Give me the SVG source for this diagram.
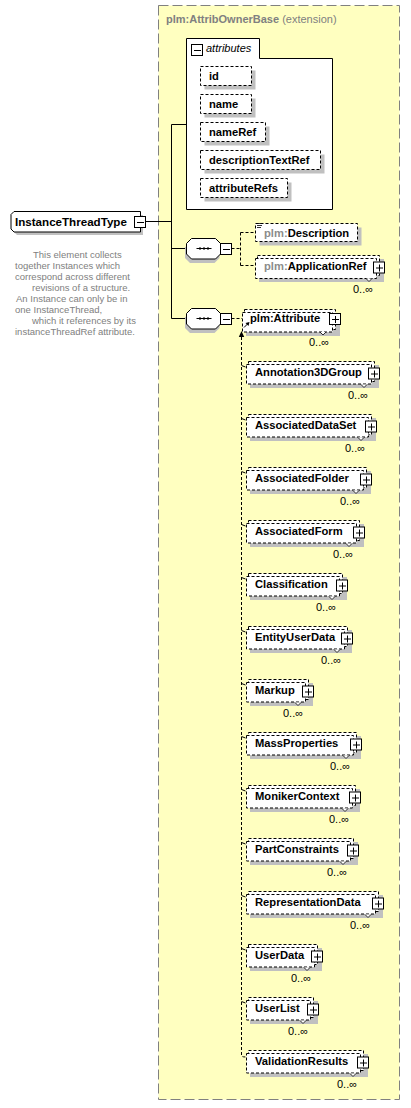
<svg xmlns="http://www.w3.org/2000/svg" xmlns:xlink="http://www.w3.org/1999/xlink" width="411" height="1108" viewBox="0 0 411 1108">
<style>
text{font-family:"Liberation Sans",Arial,sans-serif}
.lbl{font-size:11.2px;font-weight:bold;fill:#000}
.pre{font-weight:bold;fill:#8c8c8c}
.mult{font-size:11px;fill:#000}
.doc{font-size:9.5px;fill:#808080}
.dbox{fill:#fff;stroke:#000;stroke-dasharray:3,2}
.sbox{fill:#fff;stroke:#000}
.shadow{fill:#c0c0c0}
.conn{fill:none;stroke:#000}
.dconn{fill:none;stroke:#000;stroke-dasharray:3,2}
</style>
<defs>
<g id="plus"><rect x="0.5" y="0.5" width="11" height="11" fill="#fff" stroke="#000"/><path d="M3 6.5h7M6.5 3v7" stroke="#000"/></g>
<g id="minus"><rect x="0.5" y="0.5" width="11" height="11" fill="#fff" stroke="#000"/><path d="M3 6.5h7" stroke="#000"/></g>
<g id="seq"><path d="M4 4.5H28.5L33.5 9.5V20L28.5 25H4L-1 20V9.5Z" class="shadow"/><path d="M5.5 0.5H29.5L34.5 5.5V16L29.5 21H5.5L0.5 16V5.5Z" class="sbox"/><path d="M10.5 10.5h15" stroke="#000"/><rect x="13" y="9.5" width="2" height="2"/><rect x="17" y="9.5" width="2" height="2"/><rect x="21" y="9.5" width="2" height="2"/></g>
</defs>
<rect x="158.5" y="5.5" width="241" height="1094" fill="#FFFFC0" stroke="#808080" stroke-dasharray="10,4"/>
<text x="166" y="23" style="font-size:11px;fill:#808080"><tspan font-weight="bold">plm:AttribOwnerBase</tspan> (extension)</text>

<g id="connectors">
<path class="conn" d="M145.5 221.5H171.5M171.5 124.5V318.5M171.5 124.5H186.5M171.5 248.5H186.5M171.5 318.5H186.5"/>
<path class="dconn" d="M231.5 248.5H240.5M240.5 232.5V265.5M240.5 232.5H255.5M240.5 265.5H255.5"/>
<path class="dconn" d="M231.5 318.5H242"/>
<path class="dconn" d="M241.5 337V1055.5Q241.5 1057 246 1057"/>
<polygon points="241.5,331 238.8,337 244.2,337" fill="#000"/>
<path class="conn" d="M241.5 365.5l4 1.5M241.5 418.5l4 1.5M241.5 471.5l4 1.5M241.5 524.5l4 1.5M241.5 577.5l4 1.5M241.5 630.5l4 1.5M241.5 683.5l4 1.5M241.5 736.5l4 1.5M241.5 789.5l4 1.5M241.5 842.5l4 1.5M241.5 895.5l4 1.5M241.5 948.5l4 1.5M241.5 1001.5l4 1.5"/>
</g>

<g id="attributes">
<path d="M186.5 38.5H259.5V58.5H332.5V209.5H186.5Z" class="sbox"/>
<use xlink:href="#minus" x="191" y="44"/>
<text x="206" y="52" style="font-size:11px;font-style:italic;fill:#000">attributes</text>
</g>
<g id="attr-id"><rect class="shadow" x="204.5" y="70.5" width="51" height="19"/><rect class="dbox" x="200.5" y="66.5" width="51" height="19"/><text class="lbl" x="209" y="80">id</text></g>
<g id="attr-name"><rect class="shadow" x="204.5" y="98.5" width="51" height="19"/><rect class="dbox" x="200.5" y="94.5" width="51" height="19"/><text class="lbl" x="209" y="108">name</text></g>
<g id="attr-nameRef"><rect class="shadow" x="204.5" y="126.5" width="65" height="19"/><rect class="dbox" x="200.5" y="122.5" width="65" height="19"/><text class="lbl" x="209" y="136">nameRef</text></g>
<g id="attr-descriptionTextRef"><rect class="shadow" x="204.5" y="154.5" width="120" height="19"/><rect class="dbox" x="200.5" y="150.5" width="120" height="19"/><text class="lbl" x="209" y="164">descriptionTextRef</text></g>
<g id="attr-attributeRefs"><rect class="shadow" x="204.5" y="182.5" width="87" height="19"/><rect class="dbox" x="200.5" y="178.5" width="87" height="19"/><text class="lbl" x="209" y="192">attributeRefs</text></g>

<g id="InstanceThreadType">
<path class="shadow" d="M17 215H143V235H17L14 232V218Z"/>
<path class="sbox" d="M14 211.5H140.5V232H14L11 229V214.5Z"/>
<text class="lbl" x="15" y="225.5" style="font-size:11.6px">InstanceThreadType</text>
<use xlink:href="#minus" x="134" y="216"/>
<text class="doc"><tspan x="33" y="258">This element collects</tspan><tspan x="15" y="269">together Instances which</tspan><tspan x="15" y="280">correspond across different</tspan><tspan x="32" y="291">revisions of a structure.</tspan><tspan x="16" y="302">An Instance can only be in</tspan><tspan x="15" y="313">one InstanceThread,</tspan><tspan x="32" y="324">which it references by its</tspan><tspan x="15" y="335">instanceThreadRef attribute.</tspan></text>
</g>

<g id="sequence1"><use xlink:href="#seq" x="186" y="238"/><use xlink:href="#minus" x="220" y="243"/></g>
<g id="sequence2"><use xlink:href="#seq" x="186" y="308"/><use xlink:href="#minus" x="220" y="313"/></g>

<g id="Description">
<rect class="shadow" x="259.5" y="227.5" width="102" height="18"/>
<rect class="dbox" x="255.5" y="223.5" width="102" height="18"/>
<path d="M257 223.5h5M257 225.5h5M257 227.5h4" stroke="#000" stroke-width="0.8"/>
<text class="lbl" x="264" y="236.5"><tspan class="pre">plm:</tspan>Description</text>
</g>

<g id="ApplicationRef">
<rect class="shadow" x="259" y="259" width="125" height="23"/>
<rect class="dbox" x="257.5" y="255.5" width="122" height="20"/>
<rect class="dbox" x="255.5" y="258.5" width="121" height="20"/>
<path d="M366 278.5l3 3l3-3" fill="#fff" stroke="#000" stroke-width="0.8"/>
<text class="lbl" x="264" y="270"><tspan class="pre">plm:</tspan>ApplicationRef</text>
<use xlink:href="#plus" x="373" y="261.5"/>
<text class="mult" x="353" y="293">0..∞</text>
</g>

<g id="Attribute">
<rect class="shadow" x="246" y="313" width="94" height="23"/>
<rect class="dbox" x="244.5" y="309.5" width="91" height="20"/>
<rect class="dbox" x="242.5" y="312.5" width="90" height="19.5"/>
<path d="M320 332l3 3l3-3" fill="#fff" stroke="#000" stroke-width="0.8"/>
<path d="M244 327.5l4-4" stroke="#000"/><polygon points="249.5,322 245.5,323 248.5,326" fill="#000"/>
<text class="lbl" x="250" y="322">plm:Attribute</text>
<use xlink:href="#plus" x="329" y="313"/>
<text class="mult" x="309" y="346">0..∞</text>
</g>

<g id="Annotation3DGroup"><rect class="shadow" x="250" y="365" width="129" height="23"/><rect class="dbox" x="248.5" y="361.5" width="126" height="20"/><rect class="dbox" x="246.5" y="364.5" width="125" height="19.5"/><path d="M361 384.5l3 3l3-3" fill="#fff" stroke="#000" stroke-width="0.8"/><text class="lbl" x="255" y="376">Annotation3DGroup</text><use xlink:href="#plus" x="368" y="367.5"/><text class="mult" x="348" y="399">0..∞</text></g>
<g id="AssociatedDataSet"><rect class="shadow" x="250" y="418" width="126" height="23"/><rect class="dbox" x="248.5" y="414.5" width="123" height="20"/><rect class="dbox" x="246.5" y="417.5" width="122" height="19.5"/><path d="M358 437.5l3 3l3-3" fill="#fff" stroke="#000" stroke-width="0.8"/><text class="lbl" x="255" y="429">AssociatedDataSet</text><use xlink:href="#plus" x="365" y="420.5"/><text class="mult" x="345" y="452">0..∞</text></g>
<g id="AssociatedFolder"><rect class="shadow" x="250" y="471" width="121" height="23"/><rect class="dbox" x="248.5" y="467.5" width="118" height="20"/><rect class="dbox" x="246.5" y="470.5" width="117" height="19.5"/><path d="M353 490.5l3 3l3-3" fill="#fff" stroke="#000" stroke-width="0.8"/><text class="lbl" x="255" y="482">AssociatedFolder</text><use xlink:href="#plus" x="360" y="473.5"/><text class="mult" x="340" y="505">0..∞</text></g>
<g id="AssociatedForm"><rect class="shadow" x="250" y="524" width="114" height="23"/><rect class="dbox" x="248.5" y="520.5" width="111" height="20"/><rect class="dbox" x="246.5" y="523.5" width="110" height="19.5"/><path d="M346 543.5l3 3l3-3" fill="#fff" stroke="#000" stroke-width="0.8"/><text class="lbl" x="255" y="535">AssociatedForm</text><use xlink:href="#plus" x="353" y="526.5"/><text class="mult" x="333" y="558">0..∞</text></g>
<g id="Classification"><rect class="shadow" x="250" y="577" width="97" height="23"/><rect class="dbox" x="248.5" y="573.5" width="94" height="20"/><rect class="dbox" x="246.5" y="576.5" width="93" height="19.5"/><path d="M329 596.5l3 3l3-3" fill="#fff" stroke="#000" stroke-width="0.8"/><text class="lbl" x="255" y="588">Classification</text><use xlink:href="#plus" x="336" y="579.5"/><text class="mult" x="316" y="611">0..∞</text></g>
<g id="EntityUserData"><rect class="shadow" x="250" y="630" width="102" height="23"/><rect class="dbox" x="248.5" y="626.5" width="99" height="20"/><rect class="dbox" x="246.5" y="629.5" width="98" height="19.5"/><path d="M334 649.5l3 3l3-3" fill="#fff" stroke="#000" stroke-width="0.8"/><text class="lbl" x="255" y="641">EntityUserData</text><use xlink:href="#plus" x="341" y="632.5"/><text class="mult" x="321" y="664">0..∞</text></g>
<g id="Markup"><rect class="shadow" x="250" y="683" width="63" height="23"/><rect class="dbox" x="248.5" y="679.5" width="60" height="20"/><rect class="dbox" x="246.5" y="682.5" width="59" height="19.5"/><path d="M295 702.5l3 3l3-3" fill="#fff" stroke="#000" stroke-width="0.8"/><text class="lbl" x="255" y="694">Markup</text><use xlink:href="#plus" x="302" y="685.5"/><text class="mult" x="283" y="717">0..∞</text></g>
<g id="MassProperties"><rect class="shadow" x="250" y="736" width="111" height="23"/><rect class="dbox" x="248.5" y="732.5" width="108" height="20"/><rect class="dbox" x="246.5" y="735.5" width="107" height="19.5"/><path d="M343 755.5l3 3l3-3" fill="#fff" stroke="#000" stroke-width="0.8"/><text class="lbl" x="255" y="747">MassProperties</text><use xlink:href="#plus" x="350" y="738.5"/><text class="mult" x="330" y="770">0..∞</text></g>
<g id="MonikerContext"><rect class="shadow" x="250" y="789" width="110" height="23"/><rect class="dbox" x="248.5" y="785.5" width="107" height="20"/><rect class="dbox" x="246.5" y="788.5" width="106" height="19.5"/><path d="M342 808.5l3 3l3-3" fill="#fff" stroke="#000" stroke-width="0.8"/><text class="lbl" x="255" y="800">MonikerContext</text><use xlink:href="#plus" x="349" y="791.5"/><text class="mult" x="329" y="823">0..∞</text></g>
<g id="PartConstraints"><rect class="shadow" x="250" y="842" width="108" height="23"/><rect class="dbox" x="248.5" y="838.5" width="105" height="20"/><rect class="dbox" x="246.5" y="841.5" width="104" height="19.5"/><path d="M340 861.5l3 3l3-3" fill="#fff" stroke="#000" stroke-width="0.8"/><text class="lbl" x="255" y="853">PartConstraints</text><use xlink:href="#plus" x="347" y="844.5"/><text class="mult" x="327" y="876">0..∞</text></g>
<g id="RepresentationData"><rect class="shadow" x="250" y="895" width="133" height="23"/><rect class="dbox" x="248.5" y="891.5" width="130" height="20"/><rect class="dbox" x="246.5" y="894.5" width="129" height="19.5"/><path d="M365 914.5l3 3l3-3" fill="#fff" stroke="#000" stroke-width="0.8"/><text class="lbl" x="255" y="906">RepresentationData</text><use xlink:href="#plus" x="372" y="897.5"/><text class="mult" x="350" y="929">0..∞</text></g>
<g id="UserData"><rect class="shadow" x="250" y="948" width="72" height="23"/><rect class="dbox" x="248.5" y="944.5" width="69" height="20"/><rect class="dbox" x="246.5" y="947.5" width="68" height="19.5"/><path d="M304 967.5l3 3l3-3" fill="#fff" stroke="#000" stroke-width="0.8"/><text class="lbl" x="255" y="959">UserData</text><use xlink:href="#plus" x="311" y="950.5"/><text class="mult" x="291" y="982">0..∞</text></g>
<g id="UserList"><rect class="shadow" x="250" y="1001" width="68" height="23"/><rect class="dbox" x="248.5" y="997.5" width="65" height="20"/><rect class="dbox" x="246.5" y="1000.5" width="64" height="19.5"/><path d="M300 1020.5l3 3l3-3" fill="#fff" stroke="#000" stroke-width="0.8"/><text class="lbl" x="255" y="1012">UserList</text><use xlink:href="#plus" x="307" y="1003.5"/><text class="mult" x="288" y="1035">0..∞</text></g>
<g id="ValidationResults"><rect class="shadow" x="250" y="1054" width="118" height="23"/><rect class="dbox" x="248.5" y="1050.5" width="115" height="20"/><rect class="dbox" x="246.5" y="1053.5" width="114" height="19.5"/><path d="M350 1073.5l3 3l3-3" fill="#fff" stroke="#000" stroke-width="0.8"/><text class="lbl" x="255" y="1065">ValidationResults</text><use xlink:href="#plus" x="357" y="1056.5"/><text class="mult" x="337" y="1088">0..∞</text></g>
</svg>
